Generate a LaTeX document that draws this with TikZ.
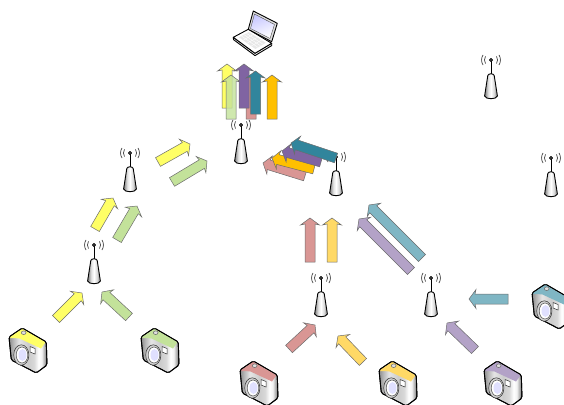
\documentclass[tikz,border=0pt]{standalone}
\usepackage{tikz}
\usetikzlibrary{calc}
\definecolor{flowyellow}{HTML}{FFFF66}
\definecolor{flowgreen}{HTML}{C3E29A}
\definecolor{flowred}{HTML}{D99694}
\definecolor{flowamber}{HTML}{FFD966}
\definecolor{flowpurple}{HTML}{B3A2C7}
\definecolor{flowteal}{HTML}{7FB6C4}
\definecolor{darkamber}{HTML}{FFC000}
\definecolor{darkpurple}{HTML}{8064A2}
\definecolor{darkteal}{HTML}{31859C}
\pgfdeclarehorizontalshading{camerabody}{100bp}{
  rgb(0bp)=(0.55,0.55,0.55); rgb(25bp)=(0.55,0.55,0.55); rgb(30bp)=(0.7,0.7,0.7); rgb(38bp)=(0.9,0.9,0.9);
  rgb(50bp)=(0.8,0.8,0.8); rgb(58bp)=(0.85,0.85,0.85); rgb(64bp)=(1,1,1); rgb(68bp)=(0.95,0.95,0.95); rgb(75bp)=(0.45,0.45,0.45); rgb(100bp)=(0.45,0.45,0.45)}
\pgfdeclarehorizontalshading{towerbody}{100bp}{
  rgb(0bp)=(0.5,0.5,0.5); rgb(25bp)=(0.5,0.5,0.5); rgb(40bp)=(0.9,0.9,0.9); rgb(50bp)=(1,1,1); rgb(62bp)=(0.85,0.85,0.85); rgb(75bp)=(0.45,0.45,0.45); rgb(100bp)=(0.45,0.45,0.45)}
\tikzset{
  flow/.style={draw=gray!85!black, line width=0.5pt, line join=miter},
  edge/.style={draw=black, line width=0.9pt, line join=round},
  tower/.pic={
    \draw[gray!50!black, line width=0.7pt]
      (-5.5,3.5) arc[start angle=147, end angle=213, radius=6.5]
      (-8,5) arc[start angle=148, end angle=212, radius=9.5]
      (5.5,3.5) arc[start angle=33, end angle=-33, radius=6.5]
      (8,5) arc[start angle=32, end angle=-32, radius=9.5];
    \draw[black, line width=0.9pt] (0,0) -- (0,14);
    \draw[edge, fill=gray!60] (0,0) circle[radius=1.5];
    \draw[edge, shading=towerbody]
      (-3.2,15.5) .. controls (-2.5,13.2) and (2.5,13.2) .. (3.2,15.5) -- (6.4,36)
      .. controls (6,39.6) and (-6,39.6) .. (-6.4,36) -- cycle;
  },
  camera/.pic={
    \draw[edge, rounded corners=1.5pt, shading=camerabody]
      (0,9) -- (13.3,0) -- (37.3,14) -- (38,37) -- (27.3,45) -- (2.3,32) -- cycle;
    \fill[#1] (0.8,9) -- (13.3,0.7) -- (36.6,14.2) .. controls (35,18) .. (32,20.5)
      -- (10.5,10.5) .. controls (7,9.5) and (4,10.5) .. (0.8,10) -- cycle;
    \draw[edge, rounded corners=1.5pt] (0,9) -- (13.3,0) -- (37.3,14) -- (38,37) -- (27.3,45) -- (2.3,32) -- cycle;
    \draw[gray!80!black, line width=0.5pt, fill=gray!25] (14.7,4.7) ellipse[x radius=2.4, y radius=1.8];
    \draw[gray!40!black, line width=0.5pt, fill=white] (21,18.5) -- (26,20.5) -- (26,26) -- (21,24) -- cycle;
    \draw[gray!50!black, line width=0.6pt, fill=gray!35] (12.3,27) ellipse[x radius=7.6, y radius=10.2];
    \draw[gray!60!black, line width=0.5pt, fill=white] (13,27) ellipse[x radius=5.8, y radius=8];
    \fill[blue!12!white] (13.5,27) ellipse[x radius=4, y radius=6];
  },
  laptop/.pic={
    \draw[edge, fill=white] (0.3,26.3) -- (0.5,28.6) -- (22,44.6) -- (38.7,34.6) -- (38.7,32.3) -- (22,42.3) -- cycle;
    \draw[edge, fill=white] (0.3,26.3) -- (15.3,18.3) -- (38.7,32.3) -- (22,42.3) -- cycle;
    \fill[gray!18] (6,26.3) -- (15.8,21) -- (32.8,31.8) -- (22.4,38) -- cycle;
    \foreach \t in {0.25,0.5,0.75} {
      \draw[white, line width=0.4pt] ($(6,26.3)!\t!(15.8,21)$) -- ($(22.4,38)!\t!(32.8,31.8)$);
      \draw[white, line width=0.4pt] ($(6,26.3)!\t!(22.4,38)$) -- ($(15.8,21)!\t!(32.8,31.8)$);
    }
    \draw[edge, fill=gray!25] (20.3,0) -- (44.3,12.3) -- (38.7,30.7) -- (15.3,18.3) -- cycle;
    \draw[gray!60!black, line width=0.4pt, left color=blue!22!white, right color=white, shading angle=20]
      (21.5,3) -- (41.5,13.5) -- (37,27.5) -- (17.5,17.5) -- cycle;
  }
}
% block arrow from tail to tip: name, fill, tail, tip
\newcommand{\flowarrow}[5][]{
  \coordinate (#2-tail) at #4;
  \coordinate (#2-tip) at #5;
  \coordinate (#2-neck) at ($(#2-tip)!6pt!(#2-tail)$);
  \coordinate (#2-barb) at ($(#2-tip)!7pt!(#2-tail)$);
  \path[flow, fill=#3, #1] ($(#2-tail)!5pt!90:(#2-tip)$) -- ($(#2-neck)!5pt!90:(#2-tip)$)
    -- ($(#2-barb)!9.5pt!90:(#2-tip)$) -- (#2-tip) -- ($(#2-barb)!9.5pt!-90:(#2-tip)$)
    -- ($(#2-neck)!5pt!-90:(#2-tip)$) -- ($(#2-tail)!5pt!-90:(#2-tip)$) -- cycle;
}
\begin{document}
\begin{tikzpicture}[x=1pt, y=-1pt]
\useasboundingbox (0,0) rectangle (564,404);
% Laptop
\pic (pc) at (233,11) {laptop};
% Towers
\pic (tcentre) at (241,125) {tower};
\pic (tupper) at (130,153) {tower};
\pic (tlower) at (94,245) {tower};
\pic (tright) at (336,157) {tower};
\pic (tred) at (321,278) {tower};
\pic (tpurple) at (431,278) {tower};
\pic (tfar) at (491,60) {tower};
\pic (tedge) at (551,158) {tower};
% Cameras
\pic (camyellow) at (9,328) {camera=flowyellow};
\pic (camgreen) at (141,328) {camera=flowgreen};
\pic (camred) at (240,361) {camera=flowred};
\pic (camamber) at (379,361) {camera=flowamber};
\pic (campurple) at (484,361) {camera=flowpurple};
\pic (camteal) at (532,284) {camera=flowteal};
% Bottom row
\flowarrow{a1}{flowyellow}{(56,319)}{(82,293)}
\flowarrow{a2}{flowgreen}{(129,317)}{(102,292)}
\flowarrow{a3}{flowred}{(289,349)}{(315,325)}
\flowarrow{a4}{flowamber}{(363,362)}{(338,336)}
\flowarrow{a5}{flowpurple}{(475,350)}{(447,323)}
\flowarrow{a6}{flowteal}{(508,299)}{(469,299)}
% Second row
\flowarrow{b1}{flowyellow}{(95,229)}{(113,198)}
\flowarrow{b2}{flowgreen}{(117,240)}{(137,206)}
\flowarrow{b3}{flowred}{(310,262)}{(310,218)}
\flowarrow{b4}{flowamber}{(332,262)}{(332,218)}
\flowarrow{b5}{flowpurple}{(411,271)}{(359,219)}
\flowarrow{b6}{flowteal}{(422,258)}{(369,205)}
% Third row
\flowarrow{c1}{flowyellow}{(158,162)}{(190,144)}
\flowarrow{c2}{flowgreen}{(172,182)}{(207,161)}
\flowarrow{c3}{flowred}{(305,176)}{(263,163)}
\flowarrow{c4}{darkamber}{(314,169)}{(272,158)}
\flowarrow{c5}{darkpurple}{(321,162)}{(282,151)}
\flowarrow{c6}{darkteal}{(336,158)}{(291,143)}
% Top bundle
\flowarrow{d1}{flowred}{(251,119)}{(251,75)}
\flowarrow{d2}{flowyellow}{(227,108)}{(227,64)}
\flowarrow[fill opacity=0.8]{d3}{flowgreen}{(231,119)}{(231,75)}
\flowarrow{d4}{darkpurple}{(244,108)}{(244,64)}
\flowarrow{d5}{darkteal}{(255.5,114)}{(255.5,71)}
\flowarrow{d6}{darkamber}{(272,119)}{(272,75)}
\end{tikzpicture}
\end{document}
